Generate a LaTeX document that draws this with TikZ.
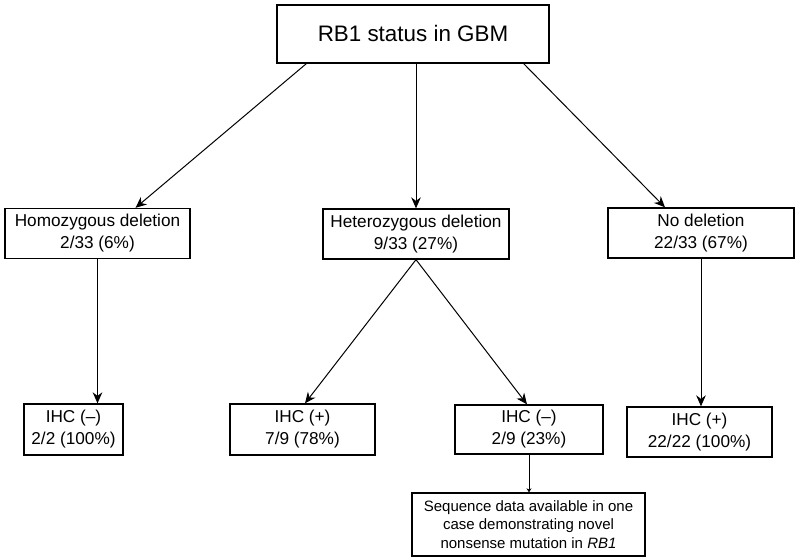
\documentclass[tikz,border=0pt]{standalone}
\usepackage{fontspec}
\setmainfont{Liberation Sans}
\usepackage{tikz}
\usetikzlibrary{arrows.meta}

\begin{document}
\begin{tikzpicture}[x=0.5pt,y=-0.5pt]
  \tikzstyle{directed}=[-{Stealth[length=5.5pt,width=4.8pt,inset=1.8pt]}, line width=0.5pt, color=black]
  \tikzstyle{statbox}=[rectangle,draw,line width=0.65pt,inner sep=0pt,align=center,font=\fontsize{8.6}{11}\selectfont]
  \useasboundingbox (0,0) rectangle (800,560);
  % top
  \node[statbox,minimum width=136pt,minimum height=29pt,font=\fontsize{11.2}{13}\selectfont] (top) at (413,34) {RB1 status in GBM};
  % deletion status
  \node[statbox,minimum width=92.5pt,minimum height=25pt] (homo) at (97.5,233.5) {Homozygous deletion\\2/33 (6\%)};
  \node[statbox,minimum width=93pt,minimum height=25pt] (hetero) at (416,234) {Heterozygous deletion\\9/33 (27\%)};
  \node[statbox,minimum width=93pt,minimum height=25pt] (nodel) at (701,233) {No deletion\\22/33 (67\%)};
  % IHC
  \node[statbox,minimum width=49.5pt,minimum height=25.5pt] (ihcA) at (73.5,429.5) {IHC (\textendash)\\2/2 (100\%)};
  \node[statbox,minimum width=72.5pt,minimum height=25.5pt] (ihcB) at (302.5,429.5) {IHC (+)\\7/9 (78\%)};
  \node[statbox,minimum width=74pt,minimum height=24.5pt] (ihcC) at (529,429.5) {IHC (\textendash)\\2/9 (23\%)};
  \node[statbox,minimum width=72.5pt,minimum height=25pt] (ihcD) at (699.5,432) {IHC (+)\\22/22 (100\%)};
  \node[statbox,minimum width=116.5pt,minimum height=31.5pt,font=\fontsize{7.5}{9.25}\selectfont] (seq) at (528.5,524.5) {Sequence data available in one\\case demonstrating novel\\nonsense mutation in \textit{RB1}};
  % connectors
  \draw[directed] ([xshift=15pt]top.south west) -- ([xshift=19pt]homo.north);
  \draw[directed] (top.south -| hetero.north) -- (hetero.north);
  \draw[directed] ([xshift=-13pt]top.south east) -- ([xshift=-18pt]nodel.north);
  \foreach \a/\b in {homo/ihcA,nodel/ihcD} {
    \draw[directed] (\a.south) -- (\a.south |- \b.north);
  }
  \draw[directed] (hetero.south) -- ([xshift=1.25pt]ihcB.north);
  \draw[directed] (hetero.south) -- ([xshift=-1pt]ihcC.north);
  \draw[-{Stealth[length=2pt,width=2.5pt,inset=0.6pt]}, line width=0.5pt] (ihcC.south) -- (ihcC.south |- seq.north);
\end{tikzpicture}
\end{document}
